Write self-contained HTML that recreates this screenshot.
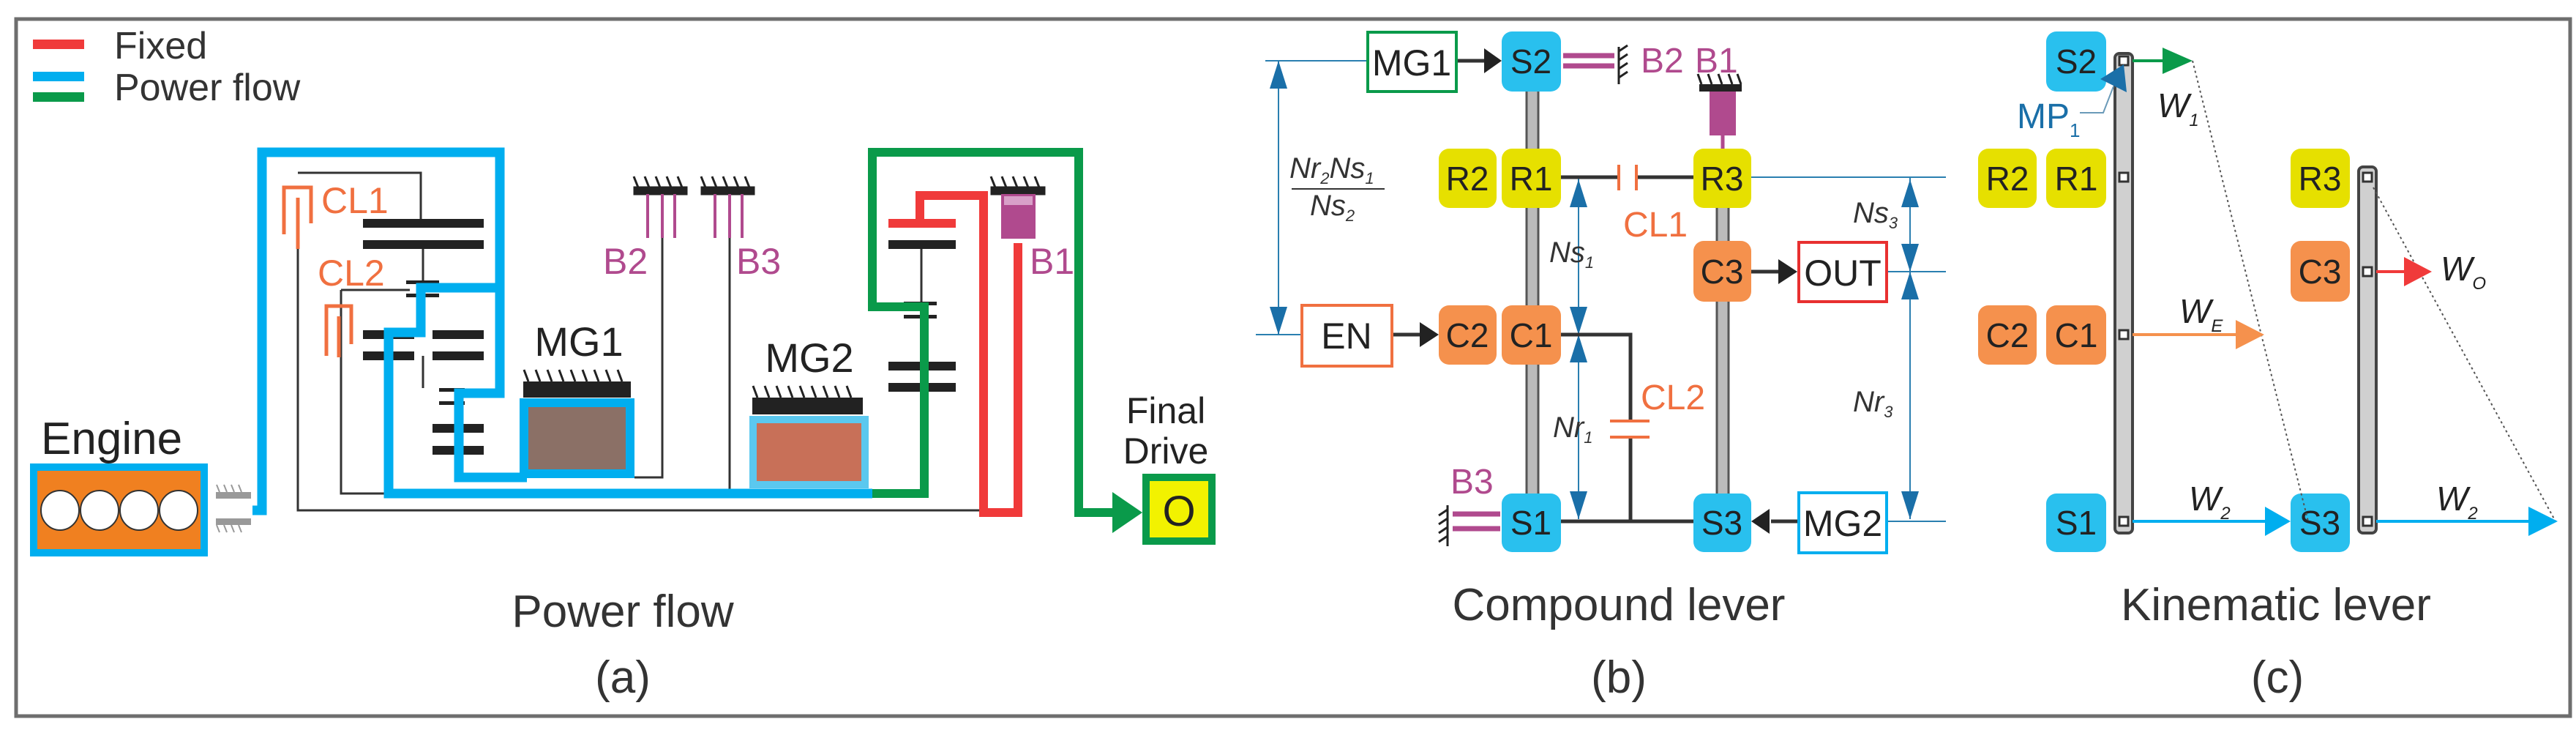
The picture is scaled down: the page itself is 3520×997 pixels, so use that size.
<!DOCTYPE html>
<html><head><meta charset="utf-8"><style>
html,body{margin:0;padding:0;background:#fff}
svg{display:block}
text{font-family:"Liberation Sans Narrow","Liberation Sans",sans-serif}
</style></head><body>
<svg width="3520" height="997" viewBox="0 0 3520 997" xmlns="http://www.w3.org/2000/svg">
<rect x="0" y="0" width="3520" height="997" fill="#fff"/>
<rect x="22" y="26" width="3490" height="952" fill="#fff" stroke="#6e6e6e" stroke-width="5"/>

<!-- legend -->
<rect x="45" y="54" width="70" height="13" fill="#f03a3a"/>
<rect x="45" y="98" width="70" height="13" fill="#00aeef"/>
<rect x="45" y="126" width="70" height="13" fill="#0a9a4a"/>
<text x="156" y="80" font-size="52" fill="#333">Fixed</text>
<text x="156" y="137" font-size="52" fill="#333">Power flow</text>

<!-- panel a thin lines -->
<g stroke="#333" stroke-width="3" fill="none">
<path d="M407 320 V697 H1339"/>
<path d="M407 236 H575 V305"/>
<path d="M466 396 H560"/>
<path d="M466 396 V674 H531"/>
<path d="M578 334 V383"/>
<path d="M578 486 V530"/>
<path d="M905 262 V652 H867"/>
<path d="M997 262 V668"/>
<path d="M1259 334 V412"/>
</g>
<!-- gears -->
<g fill="#222">
<rect x="496" y="299" width="165" height="12"/>
<rect x="496" y="328" width="165" height="12"/>
<rect x="496" y="451" width="70" height="12"/>
<rect x="591" y="451" width="70" height="12"/>
<rect x="496" y="480" width="70" height="12"/>
<rect x="591" y="480" width="70" height="12"/>
<rect x="591" y="579" width="70" height="12"/>
<rect x="591" y="609" width="70" height="12"/>
<rect x="1214" y="328" width="92" height="12"/>
<rect x="1214" y="494" width="92" height="12"/>
<rect x="1214" y="523" width="92" height="12"/>
<rect x="555" y="383" width="45" height="5"/><rect x="555" y="401" width="45" height="5"/>
<rect x="600" y="530" width="35" height="5"/><rect x="600" y="548" width="35" height="5"/>
<rect x="1235" y="412" width="45" height="5"/><rect x="1235" y="430" width="45" height="5"/>
</g>
<!-- clutches CL -->
<g stroke="#f07040" stroke-width="5" fill="none">
<path d="M388 320 V256 H425 V305"/><path d="M407 270 V340"/>
<path d="M446 486 V418 H480 V470"/><path d="M463 432 V488"/>
</g>
<text x="439" y="291" font-size="50" fill="#f07040">CL1</text>
<text x="434" y="390" font-size="50" fill="#f07040">CL2</text>
<!-- brakes B2 B3 -->
<g stroke="#222" stroke-width="3">
<rect x="867" y="256" width="71" height="9" fill="#222"/>
<rect x="959" y="256" width="71" height="9" fill="#222"/>
<rect x="1355" y="256" width="72" height="9" fill="#222"/>
<path d="M872 256 l-6 -15 M887 256 l-6 -15 M902 256 l-6 -15 M917 256 l-6 -15 M932 256 l-6 -15"/>
<path d="M964 256 l-6 -15 M979 256 l-6 -15 M994 256 l-6 -15 M1009 256 l-6 -15 M1024 256 l-6 -15"/>
<path d="M1360 256 l-6 -15 M1375 256 l-6 -15 M1390 256 l-6 -15 M1405 256 l-6 -15 M1420 256 l-6 -15"/>
</g>
<g stroke="#b04a8e" stroke-width="4">
<path d="M885 265 V325 M905 265 V325 M922 265 V325"/>
<path d="M977 265 V325 M997 265 V325 M1014 265 V325"/>
</g>
<text x="824" y="374" font-size="50" fill="#b04a8e">B2</text>
<text x="1006" y="374" font-size="50" fill="#b04a8e">B3</text>
<text x="1407" y="374" font-size="50" fill="#b04a8e">B1</text>
<rect x="1368" y="265" width="47" height="61" fill="#b04a8e"/>
<rect x="1372" y="268" width="39" height="12" fill="#d8a0c8"/>

<!-- red path -->
<path d="M1257 305 V267 H1344 V700 H1391 V332" stroke="#f03a3a" stroke-width="12" fill="none"/>
<rect x="1214" y="299" width="92" height="12" fill="#f03a3a"/>
<!-- green path -->
<path d="M1192 674 H1263 V419 H1192 V208 H1474 V700 H1530" stroke="#0a9a4a" stroke-width="12" fill="none"/>
<polygon points="1520,672 1561,700 1520,728" fill="#0a9a4a"/>
<!-- blue paths -->
<g stroke="#00aeef" stroke-width="13" fill="none">
<path d="M345 697 H358 V208 H683 V393 H575 V454 H531 V674 H1192"/>
<path d="M683 393 V537 H627 V652 H720"/>
</g>

<!-- MG1 -->
<rect x="715" y="521" width="147" height="22" fill="#222"/>
<path d="M722 521 l-6 -16 M738 521 l-6 -16 M754 521 l-6 -16 M770 521 l-6 -16 M786 521 l-6 -16 M802 521 l-6 -16 M818 521 l-6 -16 M834 521 l-6 -16 M850 521 l-6 -16" stroke="#222" stroke-width="3"/>
<rect x="716" y="550" width="145" height="97" fill="#8b7066" stroke="#00aeef" stroke-width="12"/>
<text x="791" y="486" font-size="56" fill="#222" text-anchor="middle">MG1</text>
<!-- MG2 -->
<rect x="1028" y="543" width="151" height="23" fill="#222"/>
<path d="M1035 543 l-6 -16 M1051 543 l-6 -16 M1067 543 l-6 -16 M1083 543 l-6 -16 M1099 543 l-6 -16 M1115 543 l-6 -16 M1131 543 l-6 -16 M1147 543 l-6 -16 M1163 543 l-6 -16" stroke="#222" stroke-width="3"/>
<rect x="1029" y="573" width="153" height="89" fill="#c87058" stroke="#5bc8ef" stroke-width="10"/>
<text x="1106" y="508" font-size="56" fill="#222" text-anchor="middle">MG2</text>

<!-- Engine -->
<text x="56" y="620" font-size="62" fill="#222">Engine</text>
<rect x="46" y="638" width="233" height="117" fill="#f08020" stroke="#00aeef" stroke-width="10"/>
<g fill="#fff" stroke="#333" stroke-width="2">
<ellipse cx="82" cy="697" rx="26" ry="27"/><ellipse cx="136" cy="697" rx="26" ry="27"/>
<ellipse cx="190" cy="697" rx="26" ry="27"/><ellipse cx="244" cy="697" rx="26" ry="27"/>
</g>
<rect x="295" y="672" width="48" height="9" fill="#999"/>
<rect x="295" y="708" width="48" height="9" fill="#999"/>
<path d="M300 672 l-4 -10 M310 672 l-4 -10 M320 672 l-4 -10 M330 672 l-4 -10 M300 727 l-4 -10 M310 727 l-4 -10 M320 727 l-4 -10 M330 727 l-4 -10" stroke="#999" stroke-width="2"/>
<!-- Final drive -->
<text x="1593" y="578" font-size="50" fill="#222" text-anchor="middle">Final</text>
<text x="1593" y="633" font-size="50" fill="#222" text-anchor="middle">Drive</text>
<rect x="1566" y="652" width="90" height="87" fill="#f2f200" stroke="#0a9a4a" stroke-width="10"/>
<text x="1611" y="718" font-size="58" fill="#222" text-anchor="middle" font-family="Liberation Serif,serif">O</text>
<text x="851" y="856" font-size="62" fill="#333" text-anchor="middle">Power flow</text>
<text x="851" y="946" font-size="62" fill="#333" text-anchor="middle">(a)</text>

<!-- ===== panel b ===== -->
<g stroke="#2a7fb0" stroke-width="2" fill="none">
<path d="M1729 83 H1867"/><path d="M1716 457 H1777"/>
<path d="M2393 242 H2659"/><path d="M2580 371 H2659"/><path d="M2580 712 H2659"/>
<path d="M1747 83 V457"/><path d="M2157 243 V709"/><path d="M2610 243 V709"/>
</g>
<g fill="#1a6fa8">
<polygon points="1747,83 1735,121 1759,121"/><polygon points="1747,457 1735,419 1759,419"/>
<polygon points="2157,245 2145,283 2169,283"/><polygon points="2157,457 2145,419 2169,419"/>
<polygon points="2157,457 2145,495 2169,495"/><polygon points="2157,709 2145,671 2169,671"/>
<polygon points="2610,245 2598,283 2622,283"/><polygon points="2610,371 2598,333 2622,333"/>
<polygon points="2610,371 2598,409 2622,409"/><polygon points="2610,709 2598,671 2622,671"/>
</g>
<!-- levers -->
<rect x="2086" y="120" width="16" height="560" fill="#bbb" stroke="#555" stroke-width="3"/>
<rect x="2346" y="240" width="16" height="440" fill="#bbb" stroke="#555" stroke-width="3"/>
<!-- black connections -->
<g stroke="#333" stroke-width="5" fill="none">
<path d="M2133 242 H2212 M2236 242 H2314"/>
<path d="M2133 457 H2228 V575 M2228 597 V712"/>
<path d="M2133 712 H2314"/>
<path d="M1992 83 H2035"/><path d="M1904 457 H1945"/><path d="M2393 371 H2432"/><path d="M2456 712 H2420"/>
</g>
<g fill="#222">
<polygon points="2028,66 2052,83 2028,100"/><polygon points="1940,440 1966,457 1940,474"/>
<polygon points="2430,354 2456,371 2430,388"/><polygon points="2418,695 2393,712 2418,729"/>
</g>
<g stroke="#f07040" stroke-width="4">
<path d="M2212 225 V260 M2236 225 V260"/><path d="M2200 575 H2254 M2200 597 H2254"/>
</g>
<text x="2218" y="323" font-size="48" fill="#f07040">CL1</text>
<text x="2242" y="559" font-size="48" fill="#f07040">CL2</text>
<!-- B2 / B1 / B3 -->
<g stroke="#b04a8e" stroke-width="7"><path d="M2136 76 H2206 M2136 90 H2206"/><path d="M1985 702 H2050 M1985 722 H2050"/></g>
<g stroke="#222" stroke-width="3"><path d="M2212 64 V115 M2212 70 l12 -8 M2212 82 l12 -8 M2212 94 l12 -8 M2212 106 l12 -8"/>
<path d="M1978 690 V746 M1978 696 l-12 8 M1978 708 l-12 8 M1978 720 l-12 8 M1978 732 l-12 8"/>
<path d="M2325 115 l-5 -14 M2339 115 l-5 -14 M2353 115 l-5 -14 M2367 115 l-5 -14 M2379 115 l-5 -14"/></g>
<rect x="2322" y="115" width="58" height="10" fill="#222"/>
<rect x="2336" y="125" width="36" height="60" fill="#b04a8e"/>
<path d="M2354 185 V203" stroke="#b04a8e" stroke-width="5"/>
<text x="2242" y="99" font-size="48" fill="#b04a8e">B2</text>
<text x="2316" y="99" font-size="48" fill="#b04a8e">B1</text>
<text x="1982" y="674" font-size="48" fill="#b04a8e">B3</text>
<!-- boxes -->
<rect x="1869" y="44" width="121" height="81" fill="#fff" stroke="#0a9a4a" stroke-width="4"/>
<text x="1929" y="103" font-size="50" fill="#222" text-anchor="middle">MG1</text>
<rect x="1779" y="417" width="123" height="83" fill="#fff" stroke="#f07040" stroke-width="4"/>
<text x="1840" y="476" font-size="50" fill="#222" text-anchor="middle">EN</text>
<rect x="2458" y="331" width="120" height="81" fill="#fff" stroke="#e83030" stroke-width="4"/>
<text x="2518" y="390" font-size="50" fill="#222" text-anchor="middle">OUT</text>
<rect x="2458" y="673" width="120" height="82" fill="#fff" stroke="#00aeef" stroke-width="4"/>
<text x="2518" y="732" font-size="50" fill="#222" text-anchor="middle">MG2</text>
<!-- nodes b -->
<g font-size="46" text-anchor="middle" fill="#222">
<rect x="2052" y="43" width="81" height="82" rx="14" fill="#29c0ee"/><text x="2092" y="100">S2</text>
<rect x="1966" y="203" width="79" height="81" rx="14" fill="#e6e000"/><text x="2005" y="260">R2</text>
<rect x="2052" y="203" width="81" height="81" rx="14" fill="#e6e000"/><text x="2092" y="260">R1</text>
<rect x="2314" y="203" width="79" height="81" rx="14" fill="#e6e000"/><text x="2353" y="260">R3</text>
<rect x="2314" y="329" width="79" height="83" rx="14" fill="#f5914d"/><text x="2353" y="387">C3</text>
<rect x="1966" y="417" width="79" height="81" rx="14" fill="#f5914d"/><text x="2005" y="474">C2</text>
<rect x="2052" y="417" width="81" height="81" rx="14" fill="#f5914d"/><text x="2092" y="474">C1</text>
<rect x="2052" y="674" width="81" height="80" rx="14" fill="#29c0ee"/><text x="2092" y="730">S1</text>
<rect x="2314" y="674" width="79" height="80" rx="14" fill="#29c0ee"/><text x="2353" y="730">S3</text>
</g>
<g font-size="40" fill="#333" font-style="italic">
<text x="1762" y="243">Nr<tspan font-size="22" dy="8">2</tspan><tspan dy="-8">Ns</tspan><tspan font-size="22" dy="8">1</tspan></text>
<path d="M1765 258 H1892" stroke="#333" stroke-width="2"/>
<text x="1790" y="294">Ns<tspan font-size="22" dy="8">2</tspan></text>
<text x="2117" y="358">Ns<tspan font-size="22" dy="8">1</tspan></text>
<text x="2122" y="597">Nr<tspan font-size="22" dy="8">1</tspan></text>
<text x="2532" y="304">Ns<tspan font-size="22" dy="8">3</tspan></text>
<text x="2532" y="562">Nr<tspan font-size="22" dy="8">3</tspan></text>
</g>
<text x="2212" y="847" font-size="62" fill="#333" text-anchor="middle">Compound lever</text>
<text x="2212" y="946" font-size="62" fill="#333" text-anchor="middle">(b)</text>

<!-- ===== panel c ===== -->
<g font-size="46" text-anchor="middle" fill="#222">
<rect x="2796" y="43" width="82" height="82" rx="14" fill="#29c0ee"/><text x="2837" y="100">S2</text>
<rect x="2703" y="203" width="80" height="81" rx="14" fill="#e6e000"/><text x="2743" y="260">R2</text>
<rect x="2796" y="203" width="82" height="81" rx="14" fill="#e6e000"/><text x="2837" y="260">R1</text>
<rect x="2703" y="417" width="80" height="81" rx="14" fill="#f5914d"/><text x="2743" y="474">C2</text>
<rect x="2796" y="417" width="82" height="81" rx="14" fill="#f5914d"/><text x="2837" y="474">C1</text>
<rect x="2796" y="674" width="82" height="80" rx="14" fill="#29c0ee"/><text x="2837" y="730">S1</text>
<rect x="3130" y="203" width="81" height="81" rx="14" fill="#e6e000"/><text x="3170" y="260">R3</text>
<rect x="3130" y="329" width="81" height="83" rx="14" fill="#f5914d"/><text x="3170" y="387">C3</text>
<rect x="3130" y="674" width="81" height="80" rx="14" fill="#29c0ee"/><text x="3170" y="730">S3</text>
</g>
<rect x="2890" y="73" width="24" height="655" rx="6" fill="#d0d0d0" stroke="#444" stroke-width="4"/>
<rect x="3223" y="228" width="24" height="500" rx="6" fill="#d0d0d0" stroke="#444" stroke-width="4"/>
<g fill="#fff" stroke="#333" stroke-width="3">
<rect x="2896" y="77" width="12" height="12"/><rect x="2896" y="236" width="12" height="12"/>
<rect x="2896" y="451" width="12" height="12"/><rect x="2896" y="706" width="12" height="12"/>
<rect x="3229" y="236" width="12" height="12"/><rect x="3229" y="365" width="12" height="12"/>
<rect x="3229" y="706" width="12" height="12"/>
</g>
<g stroke="#555" stroke-width="2" stroke-dasharray="3,4" fill="none">
<path d="M2996 83 L3154 712"/><path d="M3243 256 L3492 712"/>
</g>
<path d="M2914 83 H2965" stroke="#0a9a4a" stroke-width="4"/>
<polygon points="2955,65 2996,83 2955,101" fill="#0a9a4a"/>
<polygon points="2902,88 2870,108 2906,126" fill="#1a6fa8"/>
<path d="M2888 118 L2874 154 H2842" stroke="#6a9ab8" stroke-width="2" fill="none"/>
<text x="2756" y="175" font-size="48" fill="#1a6fa8">MP<tspan font-size="26" dy="12">1</tspan></text>
<path d="M2914 457 H3060" stroke="#f5914d" stroke-width="4"/>
<polygon points="3055,437 3094,457 3055,477" fill="#f5914d"/>
<path d="M3247 371 H3290" stroke="#f03a3a" stroke-width="4"/>
<polygon points="3285,351 3323,371 3285,391" fill="#f03a3a"/>
<path d="M2914 712 H3100" stroke="#00aeef" stroke-width="4"/>
<polygon points="3095,692 3130,712 3095,732" fill="#00aeef"/>
<path d="M3247 712 H3460" stroke="#00aeef" stroke-width="4"/>
<polygon points="3455,692 3495,712 3455,732" fill="#00aeef"/>
<g font-size="46" fill="#222" font-style="italic">
<text x="2948" y="160">W<tspan font-size="24" dy="12">1</tspan></text>
<text x="2978" y="441">W<tspan font-size="24" dy="12">E</tspan></text>
<text x="3335" y="383">W<tspan font-size="24" dy="12">O</tspan></text>
<text x="2991" y="697">W<tspan font-size="24" dy="12">2</tspan></text>
<text x="3329" y="697">W<tspan font-size="24" dy="12">2</tspan></text>
</g>
<text x="3110" y="847" font-size="62" fill="#333" text-anchor="middle">Kinematic lever</text>
<text x="3112" y="946" font-size="62" fill="#333" text-anchor="middle">(c)</text>
</svg>
</body></html>
